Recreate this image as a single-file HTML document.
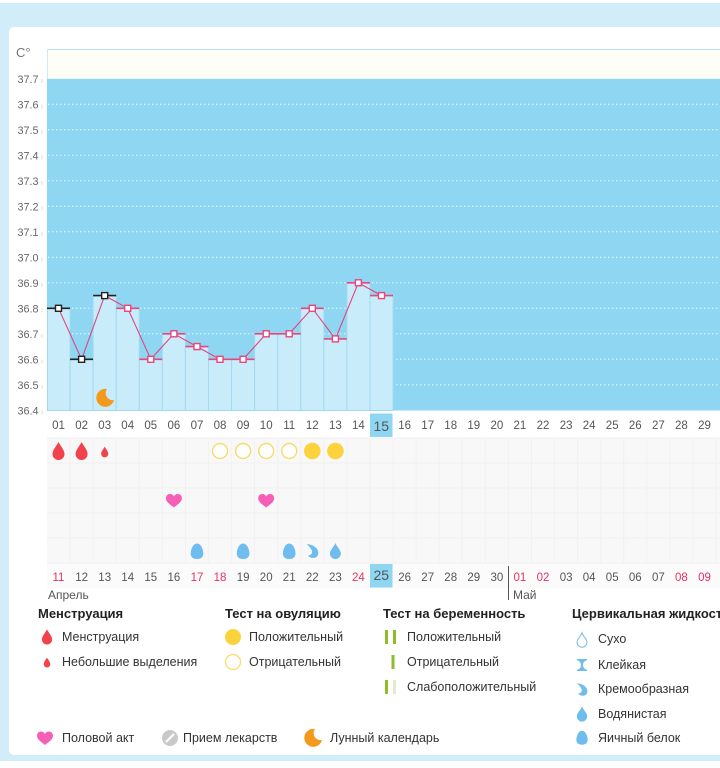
<!DOCTYPE html>
<html><head><meta charset="utf-8"><style>
html,body{margin:0;padding:0;width:720px;height:768px;overflow:hidden;background:#fff}
svg{display:block}
text{font-family:"Liberation Sans","DejaVu Sans",sans-serif}
</style></head><body>
<svg width="720" height="768" viewBox="0 0 720 768" xmlns="http://www.w3.org/2000/svg">
<defs>
<path id="drop" d="M0,-9 C2,-5 6,-1 6,3 A6,6 0 0 1 -6,3 C-6,-1 -2,-5 0,-9Z"/>
<path id="heart" d="M0,6.5 C-3,4 -8,1 -8,-2.5 C-8,-5.5 -6,-7 -4,-7 C-2,-7 -0.6,-6 0,-4.5 C0.6,-6 2,-7 4,-7 C6,-7 8,-5.5 8,-2.5 C8,1 3,4 0,6.5Z"/>
<path id="egg" d="M0,-8 C4,-8 6.3,-2 6.3,2 C6.3,6 3.5,7.5 0,7.5 C-3.5,7.5 -6.3,6 -6.3,2 C-6.3,-2 -4,-8 0,-8Z"/>
<path id="cream" d="M-5.5,-7 C1,-6.5 6.5,-2.5 6,2.5 C5.5,7.5 -1,8.5 -4.5,4.5 C-1.5,4.5 0.5,2.5 -0.5,-0.5 C-1.5,-3 -3.5,-5 -5.5,-7Z"/>
<path id="wdrop" d="M0,-8 C1.5,-4 5.5,-1 5.5,2.5 A5.5,5.5 0 0 1 -5.5,2.5 C-5.5,-1 -1.5,-4 0,-8Z"/>
<path id="moon" d="M2,-9 A9,9 0 1 0 9,2 A7,7 0 0 1 2,-9Z"/>
<path id="sticky" d="M-5,-6 H5 V-4.8 C2,-4 1,-2 1,0 C1,2 2,4 5,4.8 V6 H-5 V4.8 C-2,4 -1,2 -1,0 C-1,-2 -2,-4 -5,-4.8Z"/>
</defs>

<rect x="0" y="0" width="720" height="768" fill="#fff"/>
<rect x="0" y="3" width="720" height="758" fill="#d0edf9"/>
<rect x="9" y="27" width="720" height="728" rx="5" fill="#fff"/>

<rect x="47" y="49" width="673" height="30" fill="#fefef7"/>
<line x1="47" y1="49.5" x2="720" y2="49.5" stroke="#b8e1f1" stroke-width="1"/>
<line x1="47.5" y1="49" x2="47.5" y2="79" stroke="#cdebf6" stroke-width="1"/>
<rect x="47" y="78.8" width="673" height="331.7" fill="#8fd6f2"/>

<g stroke="#e9f7fd" stroke-width="1" stroke-dasharray="1.5,2.5">
<line x1="48" y1="104.3" x2="720" y2="104.3"/>
<line x1="48" y1="129.8" x2="720" y2="129.8"/>
<line x1="48" y1="155.3" x2="720" y2="155.3"/>
<line x1="48" y1="180.8" x2="720" y2="180.8"/>
<line x1="48" y1="206.3" x2="720" y2="206.3"/>
<line x1="48" y1="231.8" x2="720" y2="231.8"/>
<line x1="48" y1="257.3" x2="720" y2="257.3"/>
<line x1="48" y1="282.8" x2="720" y2="282.8"/>
<line x1="48" y1="308.3" x2="720" y2="308.3"/>
<line x1="48" y1="333.8" x2="720" y2="333.8"/>
<line x1="48" y1="359.3" x2="720" y2="359.3"/>
<line x1="48" y1="384.8" x2="720" y2="384.8"/>
</g>

<g font-size="10.8" fill="#666" text-anchor="end">
<text x="16" y="57" text-anchor="start" font-size="13" fill="#777">C°</text>
<text x="38.5" y="82.8">37.7</text>
<text x="38.5" y="108.3">37.6</text>
<text x="38.5" y="133.8">37.5</text>
<text x="38.5" y="159.3">37.4</text>
<text x="38.5" y="184.8">37.3</text>
<text x="38.5" y="210.3">37.2</text>
<text x="38.5" y="235.8">37.1</text>
<text x="38.5" y="261.3">37.0</text>
<text x="38.5" y="286.8">36.9</text>
<text x="38.5" y="312.3">36.8</text>
<text x="38.5" y="337.8">36.7</text>
<text x="38.5" y="363.3">36.6</text>
<text x="38.5" y="388.8">36.5</text>
<text x="38.5" y="414.3">36.4</text>
</g>
<g stroke="#dedede" stroke-width="1">
<line x1="42" y1="79" x2="42" y2="83"/><line x1="42" y1="104.5" x2="42" y2="108.5"/>
<line x1="42" y1="130" x2="42" y2="134"/><line x1="42" y1="155.5" x2="42" y2="159.5"/>
<line x1="42" y1="181" x2="42" y2="185"/><line x1="42" y1="206.5" x2="42" y2="210.5"/>
<line x1="42" y1="232" x2="42" y2="236"/><line x1="42" y1="257.5" x2="42" y2="261.5"/>
<line x1="42" y1="283" x2="42" y2="287"/><line x1="42" y1="308.5" x2="42" y2="312.5"/>
<line x1="42" y1="334" x2="42" y2="338"/><line x1="42" y1="359.5" x2="42" y2="363.5"/>
<line x1="42" y1="385" x2="42" y2="389"/><line x1="42" y1="410.5" x2="42" y2="414.5"/>
</g>

<g fill="#c9ecfa" stroke="#a3d9ef" stroke-width="1">
<rect x="47.5" y="308.3" width="22.57" height="102.2"/>
<rect x="70.07" y="359.3" width="23.07" height="51.2"/>
<rect x="93.14" y="295.6" width="23.07" height="114.9"/>
<rect x="116.21" y="308.3" width="23.07" height="102.2"/>
<rect x="139.28" y="359.3" width="23.07" height="51.2"/>
<rect x="162.35" y="333.8" width="23.07" height="76.7"/>
<rect x="185.42" y="346.6" width="23.07" height="63.9"/>
<rect x="208.49" y="359.3" width="23.07" height="51.2"/>
<rect x="231.56" y="359.3" width="23.07" height="51.2"/>
<rect x="254.63" y="333.8" width="23.07" height="76.7"/>
<rect x="277.7" y="333.8" width="23.07" height="76.7"/>
<rect x="300.77" y="308.3" width="23.07" height="102.2"/>
<rect x="323.84" y="338.9" width="23.07" height="71.6"/>
<rect x="346.91" y="282.8" width="23.07" height="127.7"/>
<rect x="369.98" y="295.6" width="23.07" height="114.9"/>
</g>

<use href="#moon" transform="translate(105,398)" fill="#f39a1d"/>

<polyline fill="none" stroke="#e0457d" stroke-width="1.1" points="58.5,308.3 81.6,359.3 104.7,295.6 127.7,308.3 150.8,359.3 173.9,333.8 197,346.6 220,359.3 243.1,359.3 266.2,333.8 289.2,333.8 312.3,308.3 335.4,338.9 358.4,282.8 381.5,295.6"/>

<g stroke-width="1.6">
<line x1="47" y1="308.3" x2="70" y2="308.3" stroke="#222"/>
<line x1="70.07" y1="359.3" x2="93.1" y2="359.3" stroke="#222"/>
<line x1="93.14" y1="295.6" x2="116.2" y2="295.6" stroke="#222"/>
<g stroke="#e8467c">
<line x1="116.21" y1="308.3" x2="139.3" y2="308.3"/>
<line x1="139.28" y1="359.3" x2="162.3" y2="359.3"/>
<line x1="162.35" y1="333.8" x2="185.4" y2="333.8"/>
<line x1="185.42" y1="346.6" x2="208.5" y2="346.6"/>
<line x1="208.49" y1="359.3" x2="231.6" y2="359.3"/>
<line x1="231.56" y1="359.3" x2="254.6" y2="359.3"/>
<line x1="254.63" y1="333.8" x2="277.7" y2="333.8"/>
<line x1="277.7" y1="333.8" x2="300.8" y2="333.8"/>
<line x1="300.77" y1="308.3" x2="323.8" y2="308.3"/>
<line x1="323.84" y1="338.9" x2="346.9" y2="338.9"/>
<line x1="346.91" y1="282.8" x2="370" y2="282.8"/>
<line x1="369.98" y1="295.6" x2="393" y2="295.6"/>
</g>
</g>
<g fill="#fff" stroke-width="1.4">
<g stroke="#222">
<rect x="55.5" y="305.3" width="6" height="6"/>
<rect x="78.6" y="356.3" width="6" height="6"/>
<rect x="101.7" y="292.6" width="6" height="6"/>
</g>
<g stroke="#e8467c">
<rect x="124.7" y="305.3" width="6" height="6"/>
<rect x="147.8" y="356.3" width="6" height="6"/>
<rect x="170.9" y="330.8" width="6" height="6"/>
<rect x="194" y="343.6" width="6" height="6"/>
<rect x="217" y="356.3" width="6" height="6"/>
<rect x="240.1" y="356.3" width="6" height="6"/>
<rect x="263.2" y="330.8" width="6" height="6"/>
<rect x="286.2" y="330.8" width="6" height="6"/>
<rect x="309.3" y="305.3" width="6" height="6"/>
<rect x="332.4" y="335.9" width="6" height="6"/>
<rect x="355.4" y="279.8" width="6" height="6"/>
<rect x="378.5" y="292.6" width="6" height="6"/>
</g>
</g>

<rect x="47" y="437.5" width="673" height="126" fill="#f8f8f8"/>
<rect x="47" y="563.5" width="673" height="25" fill="#fbfbfb"/>
<g stroke="#f1f1f1" stroke-width="1">
<line x1="47" y1="438" x2="720" y2="438"/><line x1="47" y1="463" x2="720" y2="463"/>
<line x1="47" y1="488" x2="720" y2="488"/><line x1="47" y1="513" x2="720" y2="513"/>
<line x1="47" y1="538" x2="720" y2="538"/><line x1="47" y1="563" x2="720" y2="563"/>
<line x1="70.07" y1="438" x2="70.07" y2="563"/><line x1="93.14" y1="438" x2="93.14" y2="563"/>
<line x1="116.21" y1="438" x2="116.21" y2="563"/><line x1="139.28" y1="438" x2="139.28" y2="563"/>
<line x1="162.35" y1="438" x2="162.35" y2="563"/><line x1="185.42" y1="438" x2="185.42" y2="563"/>
<line x1="208.49" y1="438" x2="208.49" y2="563"/><line x1="231.56" y1="438" x2="231.56" y2="563"/>
<line x1="254.63" y1="438" x2="254.63" y2="563"/><line x1="277.7" y1="438" x2="277.7" y2="563"/>
<line x1="300.77" y1="438" x2="300.77" y2="563"/><line x1="323.84" y1="438" x2="323.84" y2="563"/>
<line x1="346.91" y1="438" x2="346.91" y2="563"/><line x1="369.98" y1="438" x2="369.98" y2="563"/>
<line x1="393.05" y1="438" x2="393.05" y2="563"/><line x1="416.12" y1="438" x2="416.12" y2="563"/>
<line x1="439.19" y1="438" x2="439.19" y2="563"/><line x1="462.26" y1="438" x2="462.26" y2="563"/>
<line x1="485.33" y1="438" x2="485.33" y2="563"/><line x1="508.4" y1="438" x2="508.4" y2="563"/>
<line x1="531.47" y1="438" x2="531.47" y2="563"/><line x1="554.54" y1="438" x2="554.54" y2="563"/>
<line x1="577.61" y1="438" x2="577.61" y2="563"/><line x1="600.68" y1="438" x2="600.68" y2="563"/>
<line x1="623.75" y1="438" x2="623.75" y2="563"/><line x1="646.82" y1="438" x2="646.82" y2="563"/>
<line x1="669.89" y1="438" x2="669.89" y2="563"/><line x1="692.96" y1="438" x2="692.96" y2="563"/>
<line x1="716.03" y1="438" x2="716.03" y2="563"/>
</g>

<rect x="370" y="413.5" width="22.5" height="23.5" fill="#8fd6f2"/>
<rect x="370" y="564" width="22.5" height="23.5" fill="#8fd6f2"/>

<g font-size="11.5" fill="#555" text-anchor="middle">
<text x="58.5" y="429">01</text><text x="81.6" y="429">02</text><text x="104.7" y="429">03</text>
<text x="127.7" y="429">04</text><text x="150.8" y="429">05</text><text x="173.9" y="429">06</text>
<text x="197" y="429">07</text><text x="220" y="429">08</text><text x="243.1" y="429">09</text>
<text x="266.2" y="429">10</text><text x="289.2" y="429">11</text><text x="312.3" y="429">12</text>
<text x="335.4" y="429">13</text><text x="358.4" y="429">14</text>
<text x="381.3" y="431" font-size="14">15</text>
<text x="404.6" y="429">16</text><text x="427.7" y="429">17</text><text x="450.7" y="429">18</text>
<text x="473.8" y="429">19</text><text x="496.9" y="429">20</text><text x="519.9" y="429">21</text>
<text x="543" y="429">22</text><text x="566.1" y="429">23</text><text x="589.1" y="429">24</text>
<text x="612.2" y="429">25</text><text x="635.3" y="429">26</text><text x="658.4" y="429">27</text>
<text x="681.4" y="429">28</text><text x="704.5" y="429">29</text><text x="727.6" y="429">30</text>
</g>

<g font-size="11.5" fill="#555" text-anchor="middle">
<text x="58.5" y="581" fill="#e8325f">11</text><text x="81.6" y="581">12</text><text x="104.7" y="581">13</text>
<text x="127.7" y="581">14</text><text x="150.8" y="581">15</text><text x="173.9" y="581">16</text>
<text x="197" y="581" fill="#e8325f">17</text><text x="220" y="581" fill="#e8325f">18</text><text x="243.1" y="581">19</text>
<text x="266.2" y="581">20</text><text x="289.2" y="581">21</text><text x="312.3" y="581">22</text>
<text x="335.4" y="581">23</text><text x="358.4" y="581" fill="#e8325f">24</text>
<text x="381.3" y="580" font-size="14">25</text>
<text x="404.6" y="581">26</text><text x="427.7" y="581">27</text><text x="450.7" y="581">28</text>
<text x="473.8" y="581">29</text><text x="496.9" y="581">30</text>
<text x="519.9" y="581" fill="#e8325f">01</text><text x="543" y="581" fill="#e8325f">02</text>
<text x="566.1" y="581">03</text><text x="589.1" y="581">04</text>
<text x="612.2" y="581">05</text><text x="635.3" y="581">06</text><text x="658.4" y="581">07</text>
<text x="681.4" y="581" fill="#e8325f">08</text><text x="704.5" y="581" fill="#e8325f">09</text>
<text x="727.6" y="581">10</text>
</g>
<line x1="508.5" y1="566" x2="508.5" y2="600" stroke="#555" stroke-width="1"/>
<text x="48" y="599" font-size="12" fill="#555">Апрель</text>
<text x="513" y="599" font-size="12" fill="#555">Май</text>

<g fill="#f2434c">
<use href="#drop" transform="translate(58.5,451)"/>
<use href="#drop" transform="translate(81.6,451)"/>
<use href="#drop" transform="translate(104.7,452) scale(0.6)"/>
</g>
<g fill="#fff" stroke="#f6dc6c" stroke-width="1.4">
<circle cx="220" cy="451" r="7.5"/><circle cx="243.1" cy="451" r="7.5"/>
<circle cx="266.2" cy="451" r="7.5"/><circle cx="289.2" cy="451" r="7.5"/>
</g>
<g fill="#fcd23d">
<circle cx="312.3" cy="451" r="8.3"/><circle cx="335.4" cy="451" r="8.3"/>
</g>
<g fill="#f55fb8">
<use href="#heart" transform="translate(173.9,501)"/>
<use href="#heart" transform="translate(266.2,501)"/>
</g>
<g fill="#6fbcef">
<use href="#egg" transform="translate(197,551.5)"/>
<use href="#egg" transform="translate(243.1,551.5)"/>
<use href="#egg" transform="translate(289.2,551.5)"/>
<use href="#cream" transform="translate(312.3,551)"/>
<use href="#wdrop" transform="translate(335.4,551)"/>
</g>

<g font-size="13" font-weight="bold" fill="#222">
<text x="38" y="618">Менструация</text>
<text x="225" y="618">Тест на овуляцию</text>
<text x="383" y="618">Тест на беременность</text>
<text x="572" y="618">Цервикальная жидкость</text>
</g>
<g font-size="12.5" fill="#333">
<text x="62" y="641">Менструация</text>
<text x="62" y="666">Небольшие выделения</text>
<text x="249" y="641">Положительный</text>
<text x="249" y="666">Отрицательный</text>
<text x="407" y="641">Положительный</text>
<text x="407" y="666">Отрицательный</text>
<text x="407" y="691">Слабоположительный</text>
<text x="598" y="643">Сухо</text>
<text x="598" y="669">Клейкая</text>
<text x="598" y="693">Кремообразная</text>
<text x="598" y="718">Водянистая</text>
<text x="598" y="742">Яичный белок</text>
<text x="62" y="742">Половой акт</text>
<text x="183" y="742">Прием лекарств</text>
<text x="330" y="742">Лунный календарь</text>
</g>
<g fill="#f2434c">
<use href="#drop" transform="translate(47,637) scale(0.85)"/>
<use href="#drop" transform="translate(47,662.5) scale(0.55)"/>
</g>
<circle cx="233" cy="637" r="8" fill="#fcd23d"/>
<circle cx="233" cy="662" r="7.5" fill="#fff" stroke="#f6dc6c" stroke-width="1.3"/>
<g fill="#8dbd2a">
<rect x="385" y="630" width="3" height="14"/><rect x="393" y="630" width="3" height="14"/>
<rect x="391.5" y="655" width="3" height="14"/>
<rect x="385" y="680" width="3" height="14"/>
</g>
<rect x="393" y="680" width="3" height="14" fill="#e3ebcd"/>
<use href="#wdrop" transform="translate(582,640) scale(0.9)" fill="#fff" stroke="#7cc0ea" stroke-width="1.2"/>
<use href="#sticky" transform="translate(582,665)" fill="#6fbcef"/>
<use href="#cream" transform="translate(582,689.5) scale(0.9)" fill="#6fbcef"/>
<use href="#wdrop" transform="translate(582,714) scale(0.95)" fill="#6fbcef"/>
<use href="#egg" transform="translate(582,738) scale(0.9)" fill="#6fbcef"/>
<use href="#heart" transform="translate(45,738.5)" fill="#f55fb8"/>
<circle cx="170" cy="738" r="8" fill="#c9c9c9"/>
<line x1="166" y1="742" x2="174" y2="734" stroke="#fff" stroke-width="2.2"/>
<use href="#moon" transform="translate(313,738)" fill="#f39a1d"/>
</svg>
</body></html>
